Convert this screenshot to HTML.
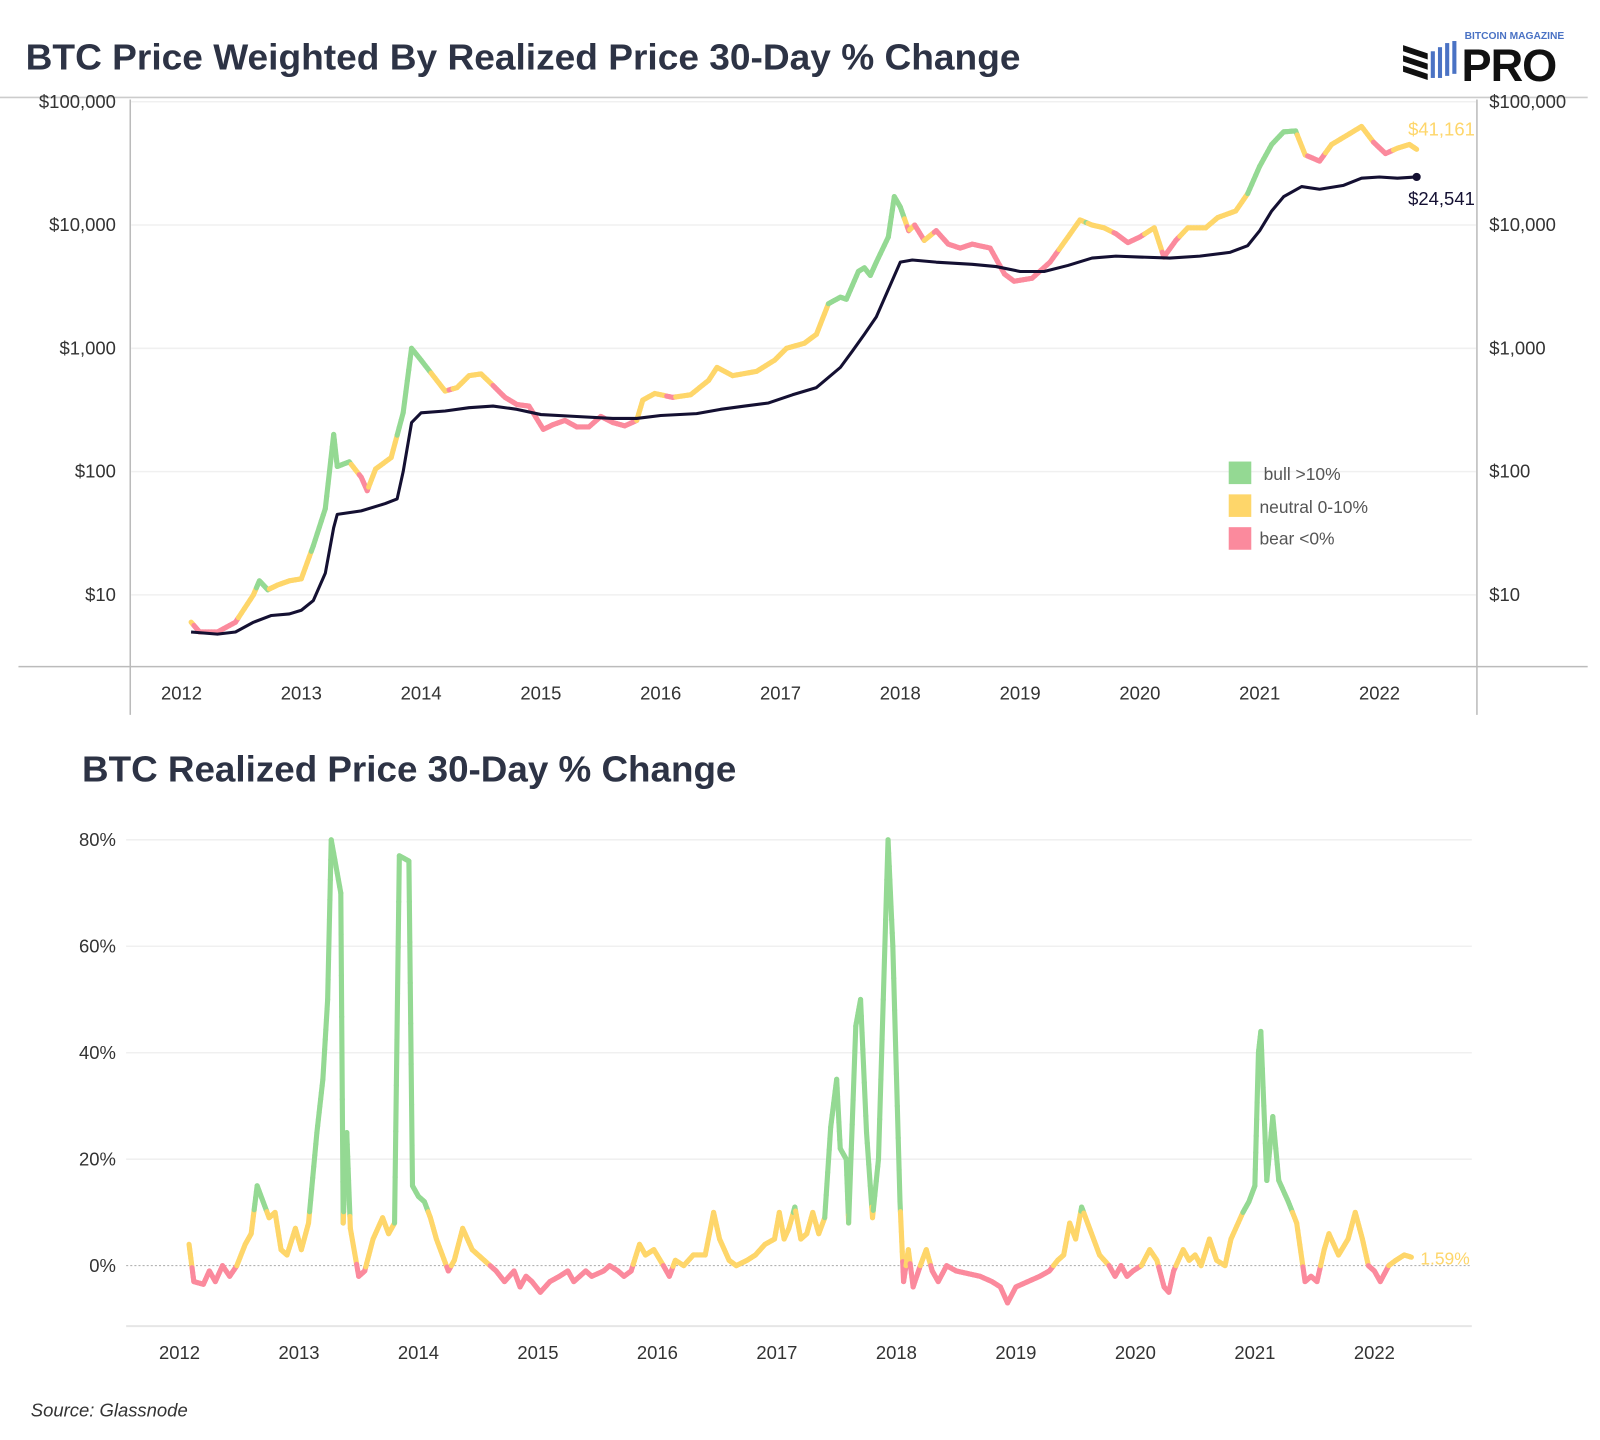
<!DOCTYPE html>
<html><head><meta charset="utf-8"><style>
html,body{margin:0;padding:0;background:#fff;}
svg{display:block;font-family:"Liberation Sans",sans-serif;}
</style></head><body>
<svg id="chart" width="1600" height="1440" viewBox="0 0 1560 1404" preserveAspectRatio="none" xmlns="http://www.w3.org/2000/svg">
<rect width="1560" height="1404" fill="#fff"/>
<text x="25" y="68" font-size="35" font-weight="bold" fill="#2d3345" textLength="970" lengthAdjust="spacingAndGlyphs">BTC Price Weighted By Realized Price 30-Day % Change</text>
<g>
<g fill="#111"><polygon points="1368,44 1392,52 1392,58 1368,50"/><polygon points="1368,54 1392,62 1392,68 1368,60"/><polygon points="1368,64 1392,72 1392,78 1368,70"/></g>
<g fill="#4a72c4"><rect x="1395" y="50" width="4" height="26"/><rect x="1402" y="46" width="4" height="30"/><rect x="1409" y="42" width="4" height="32"/><rect x="1416" y="40" width="4" height="32"/></g>
<text x="1428" y="38" font-size="10" font-weight="bold" fill="#4a72c4">BITCOIN MAGAZINE</text>
<text x="1425" y="79" font-size="44" font-weight="bold" fill="#111" letter-spacing="-1">PRO</text>
</g>
<line x1="0" y1="95" x2="1548" y2="95" stroke="#ccc" stroke-width="1.5"/>
<line x1="18" y1="650" x2="1548" y2="650" stroke="#bbb" stroke-width="1.5"/>
<line x1="127" y1="97" x2="127" y2="697" stroke="#bbb" stroke-width="1.5"/>
<line x1="1440" y1="97" x2="1440" y2="697" stroke="#bbb" stroke-width="1.5"/>
<g id="top-grid"></g>
<g id="top-axis"></g>
<g id="top-marks"></g>
<g>
<rect x="1198" y="450" width="22" height="22" fill="#94d993"/>
<text x="1232" y="468" font-size="17" fill="#555">bull &gt;10%</text>
<rect x="1198" y="482" width="22" height="22" fill="#fed66a"/>
<text x="1228" y="500" font-size="17" fill="#555">neutral 0-10%</text>
<rect x="1198" y="514" width="22" height="22" fill="#fb8a9d"/>
<text x="1228" y="531" font-size="17" fill="#555">bear &lt;0%</text>
</g>
<text x="80" y="762" font-size="35" font-weight="bold" fill="#2d3345" textLength="638" lengthAdjust="spacingAndGlyphs">BTC Realized Price 30-Day % Change</text>
<line x1="123" y1="1293" x2="1435" y2="1293" stroke="#e6e6e6" stroke-width="2"/>
<g id="bot-grid"></g>
<g id="bot-axis"></g>
<g id="bot-marks"></g>
<text x="30" y="1381" font-size="18" font-style="italic" fill="#333">Source: Glassnode</text>
</svg>
<script>
const years = [2012,2013,2014,2015,2016,2017,2018,2019,2020,2021,2022];
const priceTicks = [10,100,1000,10000,100000];
const priceTickLabels = ["$10","$100","$1,000","$10,000","$100,000"];
const pctTicks = [0,20,40,60,80];
const pctTickLabels = ["0%","20%","40%","60%","80%"];

const priceT = [2012.08,2012.15,2012.3,2012.45,2012.6,2012.65,2012.72,2012.8,2012.9,2013.0,2013.1,2013.2,2013.27,2013.3,2013.4,2013.5,2013.55,2013.62,2013.75,2013.85,2013.92,2014.0,2014.1,2014.2,2014.3,2014.4,2014.5,2014.6,2014.7,2014.8,2014.9,2015.02,2015.1,2015.2,2015.3,2015.4,2015.5,2015.6,2015.7,2015.8,2015.85,2015.95,2016.1,2016.25,2016.4,2016.47,2016.6,2016.8,2016.95,2017.05,2017.2,2017.3,2017.4,2017.5,2017.55,2017.65,2017.7,2017.75,2017.8,2017.9,2017.95,2018.0,2018.07,2018.12,2018.2,2018.3,2018.4,2018.5,2018.6,2018.75,2018.87,2018.95,2019.1,2019.25,2019.4,2019.5,2019.6,2019.7,2019.8,2019.9,2020.0,2020.12,2020.2,2020.3,2020.4,2020.55,2020.65,2020.8,2020.9,2021.0,2021.1,2021.2,2021.3,2021.38,2021.5,2021.6,2021.75,2021.85,2021.95,2022.05,2022.15,2022.25,2022.31];
const priceV = [6,5,5,6,10,13,11,12,13,13.5,25,50,200,110,120,90,70,105,130,300,1000,800,600,450,480,600,620,500,400,350,340,220,240,260,230,230,280,250,235,260,380,430,400,420,550,700,600,650,800,1000,1100,1300,2300,2600,2500,4200,4500,3900,5000,8000,17000,14000,9000,10000,7500,9000,7000,6500,7000,6500,4000,3500,3700,5000,8000,11000,10000,9500,8500,7200,8000,9500,5500,7500,9500,9500,11500,13000,18000,30000,45000,57000,58000,37000,33000,45000,55000,63000,47000,38000,42000,45000,41161];

const realT = [2012.08,2012.3,2012.45,2012.6,2012.75,2012.9,2013.0,2013.1,2013.2,2013.27,2013.3,2013.5,2013.7,2013.8,2013.85,2013.92,2014.0,2014.2,2014.4,2014.6,2014.8,2015.0,2015.3,2015.6,2015.8,2016.0,2016.3,2016.5,2016.7,2016.9,2017.1,2017.3,2017.5,2017.6,2017.7,2017.8,2017.9,2018.0,2018.1,2018.3,2018.6,2018.8,2019.0,2019.2,2019.4,2019.6,2019.8,2020.0,2020.25,2020.5,2020.75,2020.9,2021.0,2021.1,2021.2,2021.35,2021.5,2021.7,2021.85,2022.0,2022.15,2022.31];
const realV = [5,4.8,5,6,6.8,7,7.5,9,15,35,45,48,55,60,100,250,300,310,330,340,320,290,280,270,270,285,295,320,340,360,420,480,700,950,1300,1800,3000,5000,5200,5000,4800,4600,4200,4200,4700,5400,5600,5500,5400,5600,6000,6800,9000,13000,17000,20500,19500,21000,24000,24500,24000,24541];

const chgT = [2012.08,2012.12,2012.2,2012.25,2012.3,2012.36,2012.42,2012.48,2012.55,2012.6,2012.65,2012.7,2012.75,2012.8,2012.85,2012.9,2012.97,2013.02,2013.08,2013.15,2013.2,2013.24,2013.27,2013.35,2013.37,2013.4,2013.43,2013.5,2013.55,2013.62,2013.7,2013.75,2013.8,2013.84,2013.92,2013.95,2014.0,2014.05,2014.1,2014.15,2014.25,2014.3,2014.37,2014.45,2014.55,2014.65,2014.72,2014.8,2014.85,2014.9,2014.95,2015.02,2015.1,2015.18,2015.25,2015.3,2015.4,2015.45,2015.55,2015.6,2015.67,2015.72,2015.78,2015.85,2015.9,2015.97,2016.05,2016.1,2016.15,2016.22,2016.3,2016.4,2016.47,2016.52,2016.6,2016.66,2016.75,2016.82,2016.9,2016.98,2017.02,2017.06,2017.1,2017.15,2017.2,2017.25,2017.3,2017.35,2017.4,2017.45,2017.5,2017.53,2017.58,2017.6,2017.66,2017.7,2017.75,2017.8,2017.85,2017.93,2017.97,2018.03,2018.06,2018.1,2018.14,2018.2,2018.25,2018.3,2018.35,2018.42,2018.5,2018.6,2018.7,2018.8,2018.87,2018.93,2019.0,2019.1,2019.2,2019.28,2019.35,2019.4,2019.45,2019.5,2019.55,2019.6,2019.65,2019.7,2019.78,2019.83,2019.88,2019.93,2019.98,2020.05,2020.12,2020.18,2020.24,2020.28,2020.32,2020.4,2020.45,2020.5,2020.55,2020.62,2020.68,2020.75,2020.8,2020.9,2020.95,2021.0,2021.03,2021.05,2021.1,2021.15,2021.2,2021.28,2021.35,2021.42,2021.47,2021.52,2021.58,2021.62,2021.7,2021.78,2021.84,2021.9,2021.95,2022.0,2022.05,2022.12,2022.18,2022.25,2022.31];
const chgV = [4,-3,-3.5,-1,-3,0,-2,0,4,6,15,12,9,10,3,2,7,3,8,25,35,50,80,70,8,25,7,-2,-1,5,9,6,8,77,76,15,13,12,9,5,-1,1,7,3,1,-1,-3,-1,-4,-2,-3,-5,-3,-2,-1,-3,-1,-2,-1,0,-1,-2,-1,4,2,3,0,-2,1,0,2,2,10,5,1,0,1,2,4,5,10,5,7,11,5,6,10,6,9,26,35,22,20,8,45,50,25,9,20,80,60,12,-3,3,-4,0,3,-1,-3,0,-1,-1.5,-2,-3,-4,-7,-4,-3,-2,-1,1,2,8,5,11,8,5,2,0,-2,0,-2,-1,0,3,1,-4,-5,-1,3,1,2,0,5,1,0,5,10,12,15,40,44,16,28,16,12,8,-3,-2,-3,3,6,2,5,10,5,0,-1,-3,0,1,2,1.59];

const NS="http://www.w3.org/2000/svg";
function mk(tag,attrs,parent,txt){const e=document.createElementNS(NS,tag);for(const k in attrs)e.setAttribute(k,attrs[k]);if(txt!==undefined)e.textContent=txt;parent.appendChild(e);return e;}
const xTop = t => 177 + (t-2012)*116.8;
const yTop = v => 580 - (Math.log10(v)-1)*120.2;
const xBot = t => 175 + (t-2012)*116.5;
const yBot = v => 1234 - v*5.19;
function colorFor(v){return v>10?"#94d993":(v>=0?"#fed66a":"#fb8a9d");}
function chgAt(t){
  if(t<=chgT[0])return chgV[0];
  for(let i=1;i<chgT.length;i++){if(t<=chgT[i]){const f=(t-chgT[i-1])/(chgT[i]-chgT[i-1]);return chgV[i-1]+f*(chgV[i]-chgV[i-1]);}}
  return chgV[chgV.length-1];
}

const tg=document.getElementById('top-grid'), ta=document.getElementById('top-axis');
priceTicks.forEach((p,i)=>{
  const y=yTop(p);
  const gl=mk('line',{x1:128,x2:1439,y1:y,y2:y,stroke:"#f0f0f0","stroke-width":1.5},tg);
  
  
  const l=mk('text',{x:113,y:y+6,"font-size":18,fill:"#333","text-anchor":"end"},ta,priceTickLabels[i]);
  
  
  const r=mk('text',{x:1452,y:y+6,"font-size":18,fill:"#333"},ta,priceTickLabels[i]);
  
  
});
years.forEach(yr=>{
  const t=mk('text',{x:xTop(yr),y:682,"font-size":18,fill:"#333","text-anchor":"middle"},ta,String(yr));
  
  
});

const tm=document.getElementById('top-marks');
for(let i=1;i<priceT.length;i++){
  const n=6;
  for(let k=0;k<n;k++){
    const f0=k/n,f1=(k+1)/n;
    const t0=priceT[i-1]+(priceT[i]-priceT[i-1])*f0, t1=priceT[i-1]+(priceT[i]-priceT[i-1])*f1;
    const lv0=Math.log10(priceV[i-1]), lv1=Math.log10(priceV[i]);
    const v0=Math.pow(10,lv0+(lv1-lv0)*f0), v1=Math.pow(10,lv0+(lv1-lv0)*f1);
    const seg=mk('line',{x1:xTop(t0),y1:yTop(v0),x2:xTop(t1),y2:yTop(v1),stroke:colorFor(chgAt((t0+t1)/2)),"stroke-width":5,"stroke-linecap":"round"},tm);
    
    
  }
}
let rp="";
realT.forEach((t,i)=>{rp+=(i?"L":"M")+xTop(t).toFixed(1)+","+yTop(realV[i]).toFixed(1);});
const rl=mk('path',{d:rp,fill:"none",stroke:"#141032","stroke-width":3,"stroke-linejoin":"round"},tm);


const lt=realT.length-1;
const dot=mk('circle',{cx:xTop(realT[lt]),cy:yTop(realV[lt]),r:4,fill:"#141032"},tm);


const lp=mk('text',{x:1438,y:132,"font-size":18,fill:"#fed66a","text-anchor":"end"},tm,"$"+priceV[priceV.length-1].toLocaleString("en-US"));


const lr=mk('text',{x:1438,y:200,"font-size":18,fill:"#141032","text-anchor":"end"},tm,"$"+realV[lt].toLocaleString("en-US"));



const bg=document.getElementById('bot-grid'), ba=document.getElementById('bot-axis');
pctTicks.forEach((p,i)=>{
  const y=yBot(p);
  const gl=mk('line',{x1:123,x2:1435,y1:y,y2:y,stroke:p===0?"#aaa":"#f0f0f0","stroke-width":p===0?1:1.5,"stroke-dasharray":p===0?"2,2":"none"},bg);
  
  
  const l=mk('text',{x:113,y:y+6,"font-size":18,fill:"#333","text-anchor":"end"},ba,pctTickLabels[i]);
  
  
});
years.forEach(yr=>{
  const t=mk('text',{x:xBot(yr),y:1325,"font-size":18,fill:"#333","text-anchor":"middle"},ba,String(yr));
  
  
});
const bm=document.getElementById('bot-marks');
for(let i=1;i<chgT.length;i++){
  const n=8;
  for(let k=0;k<n;k++){
    const f0=k/n,f1=(k+1)/n;
    const t0=chgT[i-1]+(chgT[i]-chgT[i-1])*f0, t1=chgT[i-1]+(chgT[i]-chgT[i-1])*f1;
    const v0=chgV[i-1]+(chgV[i]-chgV[i-1])*f0, v1=chgV[i-1]+(chgV[i]-chgV[i-1])*f1;
    const seg=mk('line',{x1:xBot(t0),y1:yBot(v0),x2:xBot(t1),y2:yBot(v1),stroke:colorFor((v0+v1)/2),"stroke-width":5,"stroke-linecap":"round"},bm);
    
    
  }
}
const lc=mk('text',{x:1433,y:1233,"font-size":17,fill:"#fed66a","text-anchor":"end"},bm,chgV[chgV.length-1].toFixed(2)+"%");


</script>
</body></html>
